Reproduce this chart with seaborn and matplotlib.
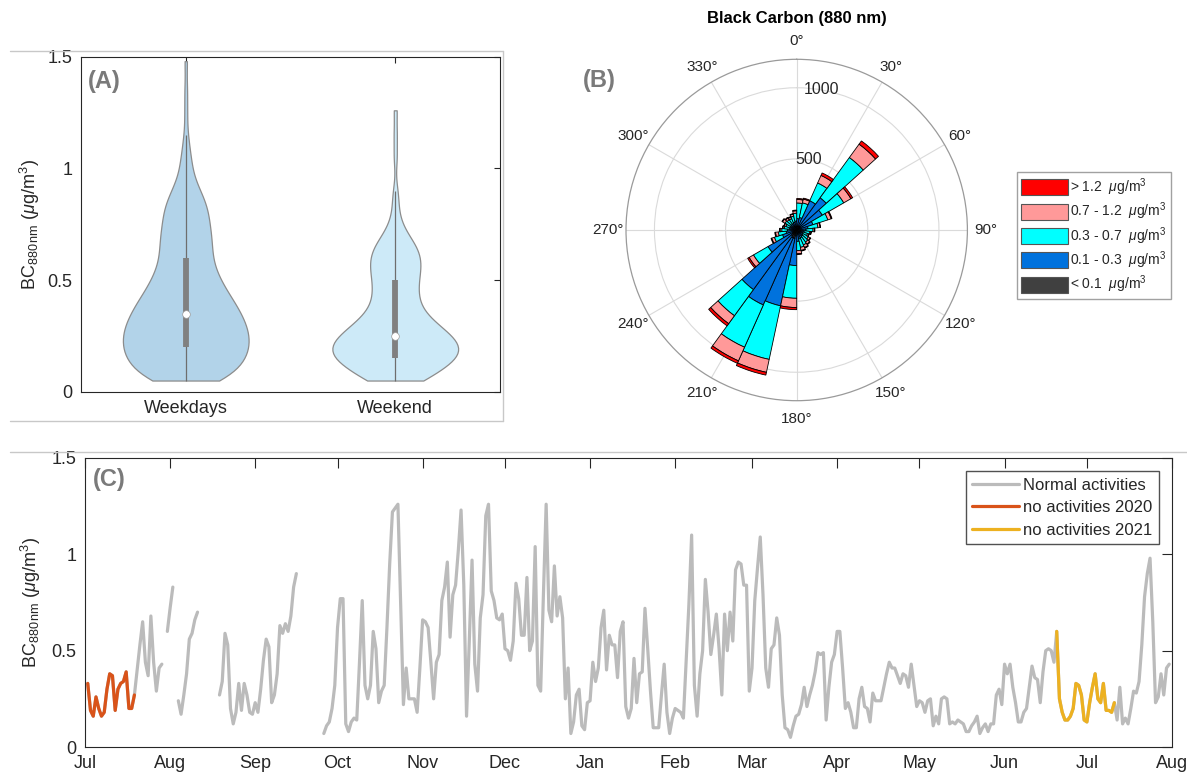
import numpy as np
import pandas as pd
import matplotlib
matplotlib.use("Agg")
import matplotlib.pyplot as plt
import matplotlib.dates as mdates
from matplotlib.lines import Line2D
from matplotlib.patches import Patch
from matplotlib import cbook
import seaborn as sns

nan = np.nan

# ---------------- data ----------------
# (A) BC distribution by day type: concentration levels and number of samples at each level
weekday_levels = [0.05, 0.10, 0.15, 0.20, 0.25, 0.30, 0.35, 0.40, 0.45, 0.50, 0.55, 0.60, 0.65,
                  0.70, 0.75, 0.80, 0.85, 0.90, 0.95, 1.00, 1.05, 1.10, 1.15, 1.25, 1.35, 1.48]
weekday_counts = [15, 18, 21, 22, 22, 21, 19, 17, 14, 12, 10, 9, 9,
                  9, 8, 8, 7, 5, 3, 2, 2, 1, 1, 1, 1, 1]
weekend_levels = [0.05, 0.10, 0.15, 0.20, 0.25, 0.30, 0.35, 0.40, 0.45, 0.50, 0.55, 0.60, 0.65,
                  0.70, 0.75, 0.80, 0.85, 0.90, 1.05, 1.15, 1.26]
weekend_counts = [10, 14, 20, 21, 18, 13, 9, 7, 7, 7, 8, 8, 7,
                  4, 2, 1, 1, 1, 1, 1, 1]
day_types = ["Weekdays", "Weekend"]

# (B) wind rose: 12-degree direction sectors, counts per BC class
rose_dir_deg = np.arange(6, 360, 12)
rose_classes = ["< 0.1  $\\mu$g/m$^3$", "0.1 - 0.3  $\\mu$g/m$^3$", "0.3 - 0.7  $\\mu$g/m$^3$",
                "0.7 - 1.2  $\\mu$g/m$^3$", "> 1.2  $\\mu$g/m$^3$"]
rose_lt01 = [20, 20, 25, 30, 25, 20, 20, 20, 18, 15, 15, 15, 15, 15, 20,
             40, 60, 60, 50, 35, 25, 20, 20, 18, 15, 15, 15, 15, 15, 18]
rose_01_03 = [60, 70, 200, 250, 183, 100, 60, 45, 35, 30, 35, 40, 45, 50, 60,
              210, 485, 517, 468, 198, 80, 55, 45, 35, 30, 35, 35, 35, 40, 45]
rose_03_07 = [110, 105, 137, 350, 174, 110, 70, 50, 40, 35, 45, 50, 55, 60, 65,
              230, 385, 325, 227, 118, 60, 55, 40, 35, 35, 45, 40, 38, 45, 55]
rose_07_12 = [25, 27, 58, 116, 58, 25, 15, 10, 8, 10, 15, 18, 20, 22, 22,
              65, 93, 105, 69, 35, 20, 20, 12, 10, 12, 20, 15, 12, 14, 17]
rose_gt12 = [7, 7, 19, 28, 14, 6, 4, 3, 3, 3, 4, 5, 5, 5, 6,
             15, 20, 19, 19, 12, 5, 5, 3, 3, 3, 5, 5, 4, 4, 5]

# (C) daily mean BC (ug/m3) from 2020-07-01, NaN = no data
start_date = "2020-07-01"
bc_daily = [
    nan,
    0.33, 0.19, 0.16, 0.26, 0.20, 0.16, 0.18, 0.30, 0.38, 0.37, 0.19, 0.30, 0.33, 0.34, 0.39, 0.20, 0.20, 0.27,
    0.40, 0.53, 0.65, 0.44, 0.37, 0.68, 0.44, 0.29, 0.41, 0.43,
    nan,
    0.60, 0.72, 0.83,
    nan,
    0.24, 0.17, 0.27, 0.38, 0.56, 0.59, 0.66, 0.70,
    nan, nan, nan, nan, nan, nan, nan,
    0.27, 0.34, 0.59, 0.53, 0.20, 0.12, 0.18, 0.33, 0.19, 0.33, 0.27, 0.18, 0.17, 0.23, 0.18,
    0.30, 0.45, 0.56, 0.52, 0.23, 0.27, 0.38, 0.63, 0.59, 0.64, 0.60, 0.68, 0.83, 0.90,
    nan, nan, nan, nan, nan, nan, nan, nan, nan,
    0.07, 0.11, 0.13, 0.20, 0.32, 0.62, 0.77, 0.77, 0.12, 0.08, 0.13, 0.15, 0.14,
    0.44, 0.76, 0.32, 0.25, 0.32, 0.60, 0.51, 0.23, 0.29, 0.32, 0.62, 0.95, 1.22, 1.24, 1.26,
    0.74, 0.22, 0.41, 0.25, 0.25, 0.25, 0.18, 0.41, 0.66, 0.65, 0.62, 0.44, 0.25, 0.44, 0.48,
    0.76, 0.83, 0.96, 0.57, 0.79, 0.84, 1.02, 1.23, 0.84, 0.16, 0.55, 0.97, 0.43, 0.29, 0.67,
    0.79, 1.20, 1.26, 0.81, 0.76, 0.67, 0.66, 0.69, 0.51, 0.50, 0.45, 0.55, 0.85, 0.77, 0.58,
    0.58, 0.88, 0.50, 0.55, 1.04, 0.32, 0.29, 0.79, 1.26, 0.71, 0.65, 0.94, 0.68, 0.78, 0.67,
    0.25, 0.41, 0.07, 0.13, 0.27, 0.30, 0.11, 0.09, 0.23, 0.24, 0.44, 0.34, 0.41, 0.62, 0.71,
    0.40, 0.58, 0.53, 0.53, 0.36, 0.60, 0.65, 0.21, 0.15, 0.20, 0.46, 0.23, 0.38, 0.39, 0.72,
    0.51, 0.29, 0.10, 0.10, 0.10, 0.27, 0.43, 0.18, 0.07, 0.15, 0.20, 0.19, 0.18, 0.15, 0.44,
    0.74, 1.10, 0.32, 0.16, 0.38, 0.50, 0.87, 0.70, 0.48, 0.58, 0.69, 0.51, 0.27, 0.69, 0.50,
    0.70, 0.55, 0.92, 0.96, 0.95, 0.84, 0.84, 0.29, 0.41, 0.76, 0.93, 1.09, 0.79, 0.41, 0.31,
    0.51, 0.53, 0.67, 0.58, 0.27, 0.10, 0.09, 0.05, 0.11, 0.16, 0.17, 0.22, 0.31, 0.21, 0.27,
    0.32, 0.39, 0.49, 0.48, 0.49, 0.14, 0.31, 0.44, 0.48, 0.60, 0.60, 0.41, 0.20, 0.23, 0.18,
    0.10, 0.10, 0.25, 0.31, 0.21, 0.20, 0.13, 0.28, 0.24, 0.24, 0.24, 0.31, 0.38, 0.44, 0.41,
    0.41, 0.37, 0.33, 0.38, 0.37, 0.31, 0.43, 0.32, 0.21, 0.24, 0.23, 0.18, 0.24, 0.25, 0.11,
    0.16, 0.12, 0.25, 0.26, 0.25, 0.12, 0.13, 0.12, 0.14, 0.13, 0.12, 0.08, 0.08, 0.11, 0.13,
    0.16, 0.07, 0.10, 0.12, 0.08, 0.12, 0.12, 0.27, 0.30, 0.22, 0.43, 0.38, 0.43, 0.31, 0.23,
    0.13, 0.13, 0.18, 0.20, 0.31, 0.42, 0.36, 0.35, 0.23, 0.39, 0.50, 0.51, 0.50, 0.44,
    0.60, 0.25, 0.18, 0.14, 0.14, 0.16, 0.20, 0.33, 0.32, 0.27, 0.14, 0.13, 0.23, 0.31, 0.38,
    0.25, 0.23, 0.33, 0.19, 0.19, 0.18, 0.23,
    0.14, 0.31, 0.12, 0.15, 0.12, 0.20, 0.29, 0.28, 0.34, 0.53, 0.78, 0.90, 0.98, 0.65, 0.23,
    0.26, 0.38, 0.27, 0.41, 0.43,
]
lockdown_periods = [("2020-07-02", "2020-07-19"), ("2021-06-20", "2021-07-11")]
series_labels = ["Normal activities", "no activities 2020", "no activities 2021"]
month_ticks = pd.date_range("2020-07-01", "2021-08-01", freq="MS")

# ---------------- style ----------------
sns.set_theme(style="white")
plt.rcParams["font.family"] = ["Liberation Sans", "DejaVu Sans"]
plt.rcParams["mathtext.fontset"] = "custom"
plt.rcParams["mathtext.rm"] = "Liberation Sans"
plt.rcParams["mathtext.it"] = "Liberation Sans:italic"
plt.rcParams["mathtext.bf"] = "Liberation Sans:bold"
plt.rcParams["axes.edgecolor"] = "#262626"
plt.rcParams["axes.linewidth"] = 0.8

W, H = 1187, 778
fig = plt.figure(figsize=(W / 100, H / 100), dpi=100)


def px_rect(left, top, right, bottom):
    return [left / W, 1 - bottom / H, (right - left) / W, (bottom - top) / H]


ylab = r"BC$_{\rm 880\,nm}$ ($\mu$g/m$^3$)"
tick_color = "#262626"

# ---------------- (A) violins ----------------
axA = fig.add_axes(px_rect(81, 56.7, 500, 391.7))
wk = np.repeat(weekday_levels, weekday_counts)
we = np.repeat(weekend_levels, weekend_counts)
vdf = pd.DataFrame({"day": [day_types[0]] * len(wk) + [day_types[1]] * len(we),
                    "bc": np.concatenate([wk, we])})
sns.violinplot(data=vdf, x="day", y="bc", hue="day", palette=["#B2D3E9", "#CDEAF8"],
               saturation=1, inner=None, cut=0, bw_adjust=0.6, width=0.6,
               density_norm="width", linewidth=0.9, linecolor="#8c8c8c",
               legend=False, ax=axA)
for i, vals in enumerate([wk, we]):
    st = cbook.boxplot_stats(vals)[0]
    axA.plot([i, i], [st["whislo"], st["whishi"]], color="#6e6e6e", lw=0.9, solid_capstyle="butt", zorder=3)
    axA.plot([i, i], [st["q1"], st["q3"]], color="#808080", lw=4.2, solid_capstyle="butt", zorder=4)
    axA.plot([i], [st["med"]], marker="o", ms=5.5, color="white", mec="#9a9a9a", mew=0.5, zorder=5)
axA.set_xlim(-0.5, 1.5)
axA.set_ylim(0, 1.5)
axA.set_yticks([0, 0.5, 1, 1.5])
axA.set_yticklabels(["0", "0.5", "1", "1.5"])
axA.set_xlabel("")
axA.set_ylabel(ylab, fontsize=13, color="#262626", labelpad=4)
axA.tick_params(direction="in", length=4, width=0.8, top=True, right=True,
                labelsize=13, colors=tick_color, pad=6)
for s in axA.spines.values():
    s.set_visible(True)
    s.set_color("#262626")
axA.text(0.017, 0.927, "(A)", transform=axA.transAxes, fontsize=17, fontweight="bold",
         color="#7a7a7a", va="center", ha="left")

# ---------------- (B) wind rose ----------------
cx, cy, rr = 796.7, 230.0, 170.7
axB = fig.add_axes(px_rect(cx - rr, cy - rr, cx + rr, cy + rr), projection="polar")
axB.set_theta_zero_location("N")
axB.set_theta_direction(-1)
theta = np.deg2rad(rose_dir_deg)
width = np.deg2rad(12)
rose_colors = ["#404040", "#0072DD", "#00FFFF", "#FF9999", "#FF0000"]
bottom = np.zeros(len(rose_dir_deg))
for seg, col in zip([rose_lt01, rose_01_03, rose_03_07, rose_07_12, rose_gt12], rose_colors):
    seg = np.asarray(seg, dtype=float)
    axB.bar(theta, seg, width=width, bottom=bottom, color=col, edgecolor="black",
            linewidth=0.6, align="center", zorder=3)
    bottom = bottom + seg
axB.set_ylim(0, 1200)
axB.set_rticks([500, 1000])
axB.set_yticklabels(["500", "1000"], fontsize=11.5, color="#262626")
axB.set_rlabel_position(10)
for lab in axB.get_yticklabels():
    lab.set_ha("center")
    lab.set_va("center")
axB.set_thetagrids(np.arange(0, 360, 30), labels=[f"{a}°" for a in range(0, 360, 30)],
                   fontsize=11, color="#262626")
axB.tick_params(axis="x", pad=0)
axB.grid(True, color="#dadada", lw=0.8)
axB.set_axisbelow(True)
axB.spines["polar"].set_color("#9a9a9a")
axB.spines["polar"].set_linewidth(0.9)

fig.text(797 / W, 1 - 18 / H, "Black Carbon (880 nm)", ha="center", va="center",
         fontsize=12, fontweight="bold", color="black")
fig.text(583 / W, 1 - 80 / H, "(B)", ha="left", va="center", fontsize=17,
         fontweight="bold", color="#7a7a7a")

rose_handles = [Patch(facecolor=c, edgecolor="#555555", linewidth=0.8) for c in rose_colors]
fig.legend(rose_handles[::-1], rose_classes[::-1], loc="upper left",
           bbox_to_anchor=(1017 / W, 1 - 172 / H), fontsize=10, frameon=True,
           fancybox=False, edgecolor="#8a8a8a", handlelength=3.4, handleheight=1.4,
           labelspacing=0.2, handletextpad=0.15, borderpad=0.3, borderaxespad=0)

# ---------------- (C) time series ----------------
axC = fig.add_axes(px_rect(85, 458, 1172, 747))
dates = pd.date_range(start_date, periods=len(bc_daily), freq="D")
ts = pd.DataFrame({"date": dates, "bc": bc_daily})
ts["segment"] = ts["bc"].isna().cumsum()
ts = ts.dropna()
line_colors = ["#BBBBBB", "#D95319", "#EDB120"]
sns.lineplot(data=ts, x="date", y="bc", units="segment", estimator=None,
             color=line_colors[0], lw=2.3, ax=axC)
for (a, b), col in zip(lockdown_periods, line_colors[1:]):
    sub = ts[(ts["date"] >= a) & (ts["date"] <= b)]
    sns.lineplot(data=sub, x="date", y="bc", estimator=None, color=col, lw=2.3, ax=axC)
axC.set_xlim(pd.Timestamp("2020-07-01"), pd.Timestamp("2021-08-01"))
axC.set_ylim(0, 1.5)
axC.set_xticks(month_ticks)
axC.xaxis.set_major_formatter(mdates.DateFormatter("%b"))
axC.set_yticks([0, 0.5, 1, 1.5])
axC.set_yticklabels(["0", "0.5", "1", "1.5"])
axC.set_xlabel("")
axC.set_ylabel(ylab, fontsize=13, color="#262626", labelpad=6)
axC.tick_params(direction="in", length=7, width=0.8, top=True, right=True,
                labelsize=13, colors=tick_color, pad=6)
for s in axC.spines.values():
    s.set_visible(True)
    s.set_color("#262626")
axC.text(0.0074, 0.927, "(C)", transform=axC.transAxes, fontsize=17, fontweight="bold",
         color="#7a7a7a", va="center", ha="left")
line_handles = [Line2D([], [], color=c, lw=2.3) for c in line_colors]
axC.legend(line_handles, series_labels, loc="upper right",
           bbox_to_anchor=(1159 / W, 1 - 471 / H), bbox_transform=fig.transFigure,
           fontsize=12, frameon=True, fancybox=False, edgecolor="#262626",
           handlelength=2.8, handletextpad=0.25, labelspacing=0.45, borderpad=0.4,
           borderaxespad=0)

# ---------------- panel frame lines ----------------
frame_col = "#c8c8c8"
for (x0, y0, x1, y1) in [(10, 51, 503, 51), (503, 51, 503, 421), (10, 421, 503, 421), (10, 452.5, 1187, 452.5)]:
    fig.add_artist(Line2D([x0 / W, x1 / W], [1 - y0 / H, 1 - y1 / H], transform=fig.transFigure,
                          color=frame_col, lw=1))

fig.savefig("out.png", dpi=100)
